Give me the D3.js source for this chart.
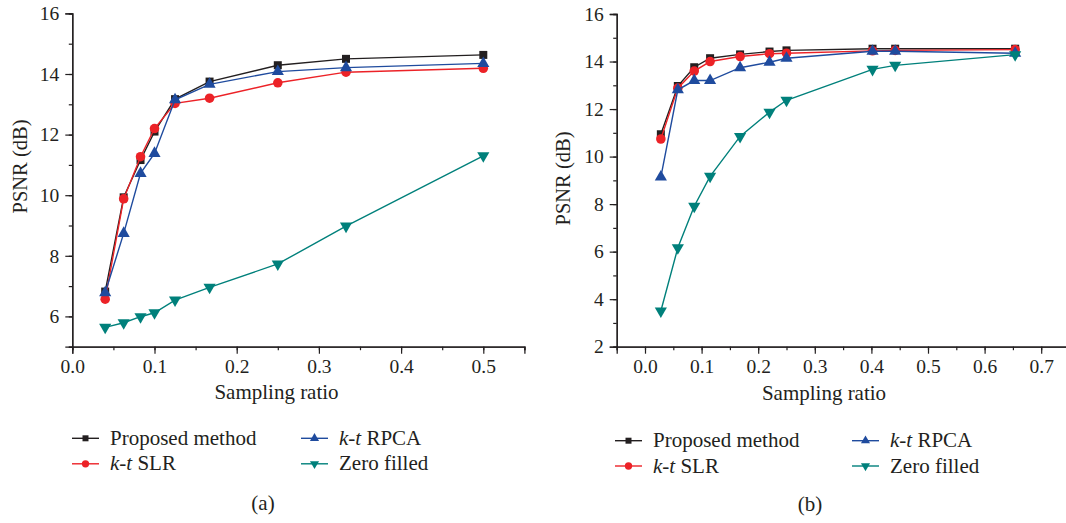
<!DOCTYPE html>
<html><head><meta charset="utf-8">
<script src="https://cdn.jsdelivr.net/npm/d3@7/dist/d3.min.js"></script>
<style>
body{margin:0;background:#fff;}
svg text{font-family:"Liberation Serif","Times New Roman",serif;fill:#231f20;}
</style></head>
<body><svg id="c" width="1066" height="523"></svg>
<script>
// ---- data ----
const seriesNames = ["Proposed method", "k-t SLR", "k-t RPCA", "Zero filled"];
const xA = [0.04, 0.0625, 0.083, 0.1, 0.125, 0.167, 0.25, 0.333, 0.5];
const propA = [6.82, 9.93, 11.16, 12.1, 13.17, 13.75, 14.29, 14.5, 14.63];
const slrA  = [6.57, 9.88, 11.27, 12.2, 13.03, 13.2, 13.71, 14.06, 14.19];
const rpcaA = [6.78, 8.74, 10.72, 11.38, 13.15, 13.66, 14.08, 14.21, 14.35];
const zeroA = [5.64, 5.79, 5.99, 6.12, 6.54, 6.96, 7.73, 8.98, 11.3];

const xB = [0.028, 0.058, 0.087, 0.115, 0.168, 0.22, 0.25, 0.402, 0.442, 0.654];
const propB = [10.94, 12.97, 13.76, 14.14, 14.3, 14.42, 14.47, 14.54, 14.54, 14.54];
const slrB  = [10.74, 12.88, 13.6, 14.0, 14.21, 14.33, 14.35, 14.45, 14.47, 14.5];
const rpcaB = [9.14, 12.81, 13.2, 13.2, 13.74, 13.97, 14.14, 14.43, 14.43, 14.35];
const zeroB = [3.5, 6.16, 7.91, 9.17, 10.85, 11.87, 12.37, 13.67, 13.84, 14.29];

const xTicksA = [0, 0.1, 0.2, 0.3, 0.4, 0.5];
const yTicksA = [6, 8, 10, 12, 14, 16];
const xTicksB = [0, 0.1, 0.2, 0.3, 0.4, 0.5, 0.6, 0.7];
const yTicksB = [2, 4, 6, 8, 10, 12, 14, 16];

const colors = ["#231f20", "#ec2227", "#1f4b9e", "#00807b"];
const symbols = [d3.symbolSquare, d3.symbolCircle, d3.symbolTriangle, d3.symbolTriangle];

const svg = d3.select("#c");
const ink = "#231f20";
const serif = '"Liberation Serif","Times New Roman",serif';

function panel(cfg){
  const g = svg.append("g");
  const x = d3.scaleLinear().domain(cfg.xd).range(cfg.xr);
  const y = d3.scaleLinear().domain(cfg.yd).range(cfg.yr);
  const fmtX = d3.format(".1f");
  const xMinor = d3.range(Math.round(cfg.xd[0]*20), Math.round(cfg.xd[1]*20)+1).map(v=>v/20);
  const yMinor = d3.range(cfg.yd[0], cfg.yd[1]+1);
  g.append("g").attr("transform",`translate(0,${cfg.yr[0]})`)
    .call(d3.axisBottom(x).tickValues(xMinor).tickSize(3.5).tickFormat(""));
  g.append("g").attr("transform",`translate(${cfg.xr[0]},0)`)
    .call(d3.axisLeft(y).tickValues(yMinor).tickSize(3.5).tickFormat(""));
  g.append("g").attr("transform",`translate(0,${cfg.yr[0]})`)
    .call(d3.axisBottom(x).tickValues(cfg.xt).tickSize(7).tickPadding(5).tickFormat(fmtX))
    .attr("font-family", serif).attr("font-size", 19.5);
  g.append("g").attr("transform",`translate(${cfg.xr[0]},0)`)
    .call(d3.axisLeft(y).tickValues(cfg.yt).tickSize(7).tickPadding(6).tickFormat(d3.format("d")))
    .attr("font-family", serif).attr("font-size", 19.5);
  g.selectAll(".domain").attr("stroke", ink).attr("stroke-width",1.3);
  g.selectAll(".tick line").attr("stroke", ink).attr("stroke-width",1.2);
  g.selectAll(".tick text").attr("fill",ink).style("font-family", serif).style("font-size","19.5px");
  cfg.series.forEach((vals,i)=>{
    const pts = cfg.xs.map((xv,j)=>[x(xv), y(vals[j])]);
    g.append("path").attr("d", d3.line()(pts)).attr("fill","none")
      .attr("stroke", colors[i]).attr("stroke-width",1.4);
    const sz = [64, 72, 64, 64][i];
    g.selectAll(null).data(pts).enter().append("path")
      .attr("d", d3.symbol().type(symbols[i]).size(sz))
      .attr("transform", d=>`translate(${d[0]},${d[1]})${i===3?" rotate(180)":""}`)
      .attr("fill", colors[i]);
  });
  g.append("text").attr("x",cfg.xlab[0]).attr("y",cfg.xlab[1]).attr("text-anchor","middle")
    .attr("font-size",21).text("Sampling ratio");
  g.append("text").attr("transform",`translate(${cfg.ylab[0]},${cfg.ylab[1]}) rotate(-90)`)
    .attr("text-anchor","middle").attr("font-size",20.5).text("PSNR (dB)");
  const L = cfg.leg;
  seriesNames.forEach((name,i)=>{
    const col = i<2 ? 0 : 1, row = i%2;
    const lx = L.cols[col], ly = L.rows[row];
    g.append("line").attr("x1",lx).attr("x2",lx+27).attr("y1",ly).attr("y2",ly)
      .attr("stroke",colors[i]).attr("stroke-width",1.4);
    g.append("path").attr("d", d3.symbol().type(symbols[i]).size(i===0?36:(i===1?42:36)))
      .attr("transform",`translate(${lx+13.5},${ly})${i===3?" rotate(180)":""}`)
      .attr("fill",colors[i]);
    const t = g.append("text").attr("x",lx+38).attr("y",ly+6.5).attr("font-size",21);
    if(name.startsWith("k-t")){
      t.append("tspan").attr("font-style","italic").text("k");
      t.append("tspan").text("-");
      t.append("tspan").attr("font-style","italic").text("t");
      t.append("tspan").text(name.slice(3));
    } else t.text(name);
  });
  g.append("text").attr("x",cfg.cap[0]).attr("y",cfg.cap[1]).attr("text-anchor","middle")
    .attr("font-size",21).text(cfg.capText);
}

panel({
  xd:[0,0.55], xr:[72.3,524.4], yd:[5,16], yr:[346.7,13.4],
  xt:xTicksA, yt:yTicksA, xs:xA, series:[propA,slrA,rpcaA,zeroA],
  xlab:[276.5,399], ylab:[27,166.5],
  leg:{cols:[72,301], rows:[438.3,463.8]},
  cap:[263,510], capText:"(a)"
});
panel({
  xd:[-0.05,0.75], xr:[616.7,1069.5], yd:[2,16], yr:[346.7,14],
  xt:xTicksB, yt:yTicksB, xs:xB, series:[propB,slrB,rpcaB,zeroB],
  xlab:[824,400], ylab:[570,178.5],
  leg:{cols:[615,852], rows:[440.7,466]},
  cap:[810,511], capText:"(b)"
});
</script></body></html>
